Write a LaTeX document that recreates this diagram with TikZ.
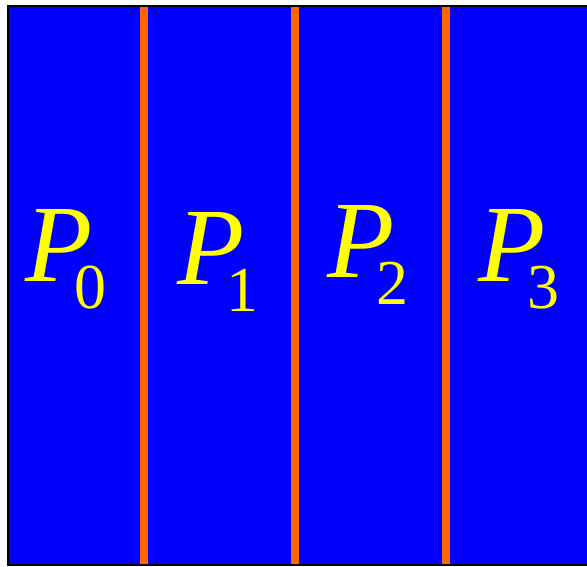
\documentclass[tikz,border=0pt]{standalone}
\usepackage{fontspec}
\setmainfont{Liberation Serif}
\usetikzlibrary{positioning}
\definecolor{BandBlue}{RGB}{0, 0, 255}
\definecolor{SplitOrange}{RGB}{255, 102, 0}
\definecolor{LabelYellow}{RGB}{255, 255, 0}
\newcommand{\partlabel}[1]{\textit{P}\kern-17.5pt\raisebox{-27pt}{\fontsize{64}{64}\selectfont #1}}
\tikzset{
    part label/.style={inner sep=0pt, anchor=base west, text=LabelYellow,
        font=\fontsize{110}{110}\selectfont},
    split line/.style={draw=SplitOrange, line width=8pt}
}

\begin{document}
\begin{tikzpicture}[x=1pt, y=-1pt]
    \useasboundingbox (0,0) rectangle (587,566);
    % the block
    \draw[fill=BandBlue, line width=2pt] (8,6) rectangle (600,565);
    \coordinate (top1) at (144,7);  \coordinate (bot1) at (144,564);
    \coordinate (top2) at (295,7);  \coordinate (bot2) at (295,564);
    \coordinate (top3) at (446,7);  \coordinate (bot3) at (446,564);
    \draw[split line] (top1) -- (bot1);
    \draw[split line] (top2) -- (bot2);
    \draw[split line] (top3) -- (bot3);
    % labels
    \node[part label] (p0) at (25,281) {\partlabel{0}};
    \node[part label] (p1) at (177,284) {\partlabel{1}};
    \node[part label] (p2) at (327,277) {\partlabel{2}};
    \node[part label] (p3) at (478,281) {\partlabel{3}};
\end{tikzpicture}
\end{document}
